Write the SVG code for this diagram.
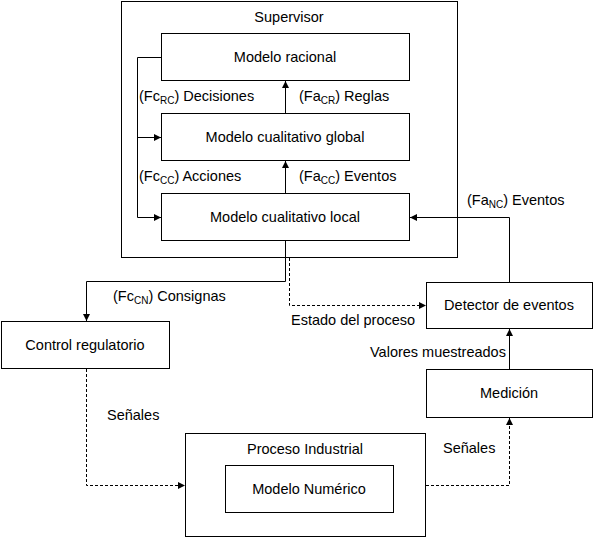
<svg xmlns="http://www.w3.org/2000/svg" width="594" height="538" viewBox="0 0 594 538">
<style>
.box{fill:#fff;stroke:#000;stroke-width:1}
.t{font-family:"Liberation Sans",Arial,sans-serif;font-size:14.5px;fill:#000}
.c{text-anchor:middle}
.ln{fill:none;stroke:#000;stroke-width:1}
.d{stroke-dasharray:3,2}
.s{font-size:10px}
</style>
<defs>
<marker id="a" markerUnits="userSpaceOnUse" markerWidth="8" markerHeight="8" refX="7" refY="4" orient="auto">
<path d="M0,0.5 L7,4 L0,7.5 z" fill="#000"/>
</marker>
</defs>
<rect width="594" height="538" fill="#fff"/>
<g id="supervisor">
<rect class="box" x="121.5" y="1.5" width="336" height="256"/>
<text class="t c" x="289" y="22">Supervisor</text>
</g>
<g id="racional">
<rect class="box" x="161.5" y="33.5" width="248" height="47"/>
<text class="t c" x="285" y="62">Modelo racional</text>
</g>
<g id="global">
<rect class="box" x="161.5" y="113.5" width="248" height="47"/>
<text class="t c" x="285" y="142">Modelo cualitativo global</text>
</g>
<g id="local">
<rect class="box" x="161.5" y="193.5" width="248" height="47"/>
<text class="t c" x="285" y="222">Modelo cualitativo local</text>
</g>
<g id="control">
<rect class="box" x="1.5" y="321.5" width="168" height="47"/>
<text class="t c" x="85" y="350">Control regulatorio</text>
</g>
<g id="detector">
<rect class="box" x="426.5" y="282.5" width="166" height="46"/>
<text class="t c" x="509" y="310">Detector de eventos</text>
</g>
<g id="medicion">
<rect class="box" x="426.5" y="369.5" width="166" height="48"/>
<text class="t c" x="509" y="398">Medición</text>
</g>
<g id="proceso">
<rect class="box" x="185.5" y="433.5" width="240" height="103"/>
<text class="t c" x="305" y="454">Proceso Industrial</text>
</g>
<g id="numerico">
<rect class="box" x="225.5" y="465.5" width="168" height="47"/>
<text class="t c" x="309" y="494">Modelo Numérico</text>
</g>
<g id="connectors">
<polyline class="ln" points="161.5,57.5 137.5,57.5 137.5,217.5 161,217.5" marker-end="url(#a)"/>
<line class="ln" x1="137.5" y1="137.5" x2="161" y2="137.5" marker-end="url(#a)"/>
<line class="ln" x1="285.5" y1="113" x2="285.5" y2="81" marker-end="url(#a)"/>
<line class="ln" x1="285.5" y1="193" x2="285.5" y2="161" marker-end="url(#a)"/>
<polyline class="ln" points="509.5,282 509.5,217.5 410,217.5" marker-end="url(#a)"/>
<polyline class="ln" points="285.5,241 285.5,281.5 86.5,281.5 86.5,321" marker-end="url(#a)"/>
<polyline class="ln d" points="289.5,258 289.5,305.5 426,305.5" marker-end="url(#a)"/>
<line class="ln" x1="509.5" y1="369" x2="509.5" y2="329" marker-end="url(#a)"/>
<polyline class="ln d" points="86.5,369 86.5,485.5 185,485.5" marker-end="url(#a)"/>
<polyline class="ln d" points="426,485.5 509.5,485.5 509.5,418" marker-end="url(#a)"/>
</g>
<g id="labels">
<text class="t" x="139" y="101">(Fc<tspan class="s" dy="3">RC</tspan><tspan dy="-3">) Decisiones</tspan></text>
<text class="t" x="299" y="101">(Fa<tspan class="s" dy="3">CR</tspan><tspan dy="-3">) Reglas</tspan></text>
<text class="t" x="139" y="181">(Fc<tspan class="s" dy="3">CC</tspan><tspan dy="-3">) Acciones</tspan></text>
<text class="t" x="299" y="181">(Fa<tspan class="s" dy="3">CC</tspan><tspan dy="-3">) Eventos</tspan></text>
<text class="t" x="467" y="205">(Fa<tspan class="s" dy="3">NC</tspan><tspan dy="-3">) Eventos</tspan></text>
<text class="t" x="113" y="301">(Fc<tspan class="s" dy="3">CN</tspan><tspan dy="-3">) Consignas</tspan></text>
<text class="t" x="291" y="325">Estado del proceso</text>
<text class="t" x="370" y="357">Valores muestreados</text>
<text class="t" x="107" y="420">Señales</text>
<text class="t" x="443" y="453">Señales</text>
</g>
</svg>
